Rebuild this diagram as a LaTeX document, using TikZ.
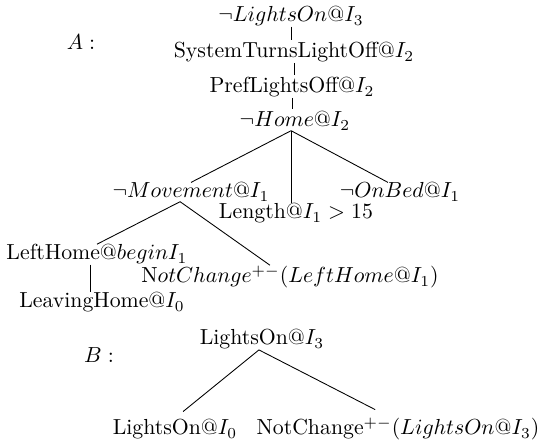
\documentclass[tikz,border=0pt]{standalone}
\usepackage{amsmath,amssymb}
\usepackage{tikz}
\usetikzlibrary{arrows,shapes}
\tikzstyle{term}=[inner sep=0pt,anchor=base]
\tikzstyle{leaf}=[term,inner sep=3.5pt]
\tikzstyle{branch}=[draw,thin]
\tikzstyle{stem}=[branch,shorten >=1pt]

\begin{document}
\begin{tikzpicture}[x=0.459pt,y=-0.459pt]
   \useasboundingbox (0,0) rectangle (539,441);
   % tree labels
   \node[term] (labA) at (81,50) {$A:$};
   \node[term] (labB) at (99,363) {$B:$};
   % tree A
   \foreach \pos/\name/\txt in {{(291,22)/top/{$\neg LightsOn@I_3$}},
        {(294,58)/sys/{SystemTurnsLightOff@$I_2$}}, {(292,93)/pref/{PrefLightsOff@$I_2$}},
        {(295,127)/home/{$\neg Home@I_2$}}, {(191,198)/mov/{$\neg Movement@I_1$}},
        {(400,198)/bed/{$\neg OnBed@I_1$}}, {(296,219)/len/{Length@$I_1 > 15$}},
        {(97,260)/lh/{LeftHome@$beginI_1$}}, {(290,283)/nca/{N$otChange^{+-}(LeftHome@I_1)$}},
        {(102,308)/lv/{LeavingHome@$I_0$}}}
        \node[term] (\name) at \pos {\txt};
   % tree B
   \node[term] (bt) at (262,345) {LightsOn@$I_3$};
   \foreach \pos/\name/\txt in {{(175,435)/lo/{LightsOn@$I_0$}},
        {(398,435)/ncb/{NotChange$^{+-}(LightsOn@I_3)$}}}
        \node[leaf] (\name) at \pos {\txt};
   % edges
   \foreach \source/\dest in {top/sys, sys/pref, pref/home}
        \path[stem] (\source.south) -- (\source.south |- \dest.north);
   \coordinate (hb) at ([xshift=-1.8pt]home.south);
   \path[branch] (hb) -- (mov.north);
   \path[branch] (hb) -- (hb |- len.north);
   \path[branch] (hb) -- ([xshift=-5.5pt]bed.north);
   \coordinate (mb) at ([xshift=-5pt]mov.south);
   \path[branch] (mb) -- (lh.north);
   \path[branch] (mb) -- ([xshift=-9.2pt]nca.north);
   \coordinate (lb) at ([xshift=-3.2pt]lh.south);
   \path[branch] (lb) -- (lb |- lv.north);
   \coordinate (bb) at ([xshift=-1.4pt]bt.south);
   \path[branch] (bb) -- ([xshift=3.7pt]lo.north);
   \path[branch] (bb) -- ([xshift=-10.5pt]ncb.north);
\end{tikzpicture}
\end{document}
